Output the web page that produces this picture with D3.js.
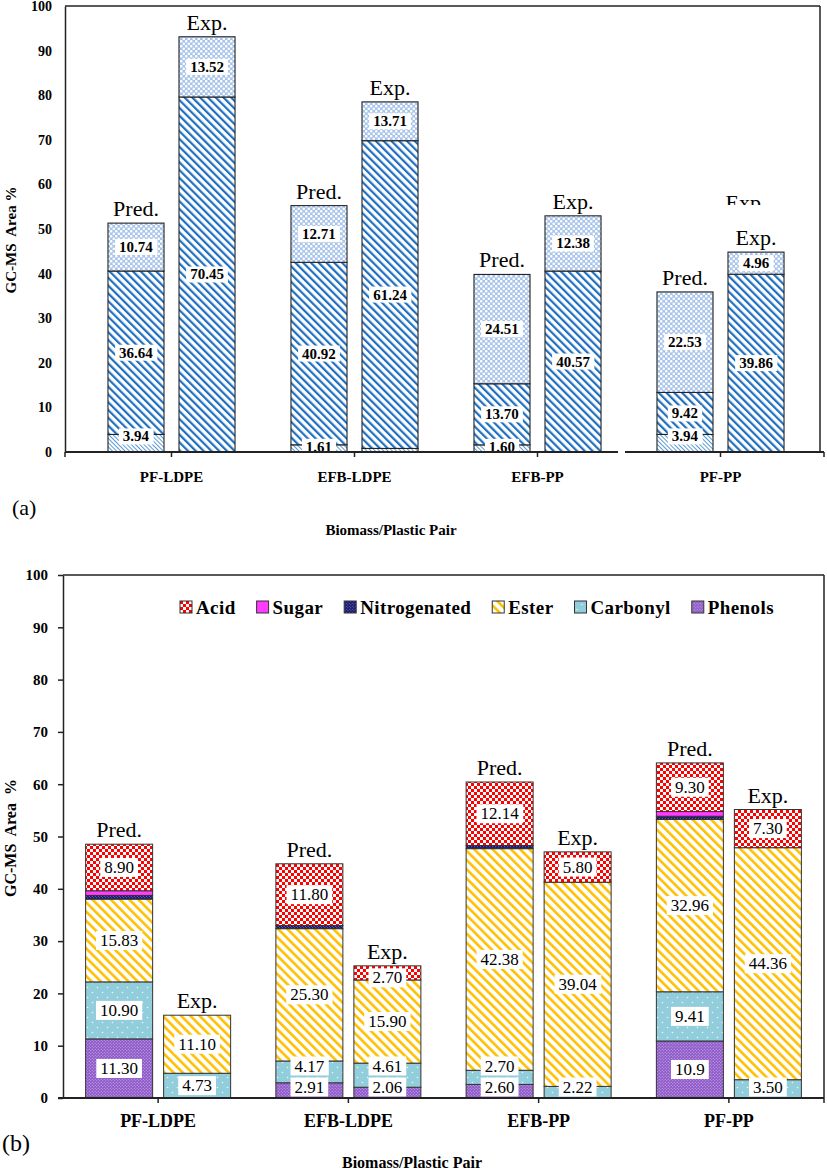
<!DOCTYPE html>
<html>
<head>
<meta charset="utf-8">
<script src="https://cdn.jsdelivr.net/npm/d3@7"></script>
<style>
body { margin: 0; background: #fff; }
svg text { font-family: "Liberation Serif", "Times New Roman", serif; }
</style>
</head>
<body>
<div id="fig"></div>
<script>
// ---- data ----
var pairs = ["PF-LDPE", "EFB-LDPE", "EFB-PP", "PF-PP"];
var kinds = ["Pred.", "Exp."];

// panel (a): three stacked groups, bottom to top
var predLow  = [3.94, 1.61, 1.60, 3.94];
var predMid  = [36.64, 40.92, 13.70, 9.42];
var predHigh = [10.74, 12.71, 24.51, 22.53];
// exp heights; two printed labels do not match the drawn heights
var expLow  = [0, 0.8, 0, 0];
var expMid  = [79.6, 69.0, 40.57, 39.86];
var expHigh = [13.5, 8.7, 12.38, 4.96];
var expMidLabels  = ["70.45", "61.24", "40.57", "39.86"];
var expHighLabels = ["13.52", "13.71", "12.38", "4.96"];

// panel (b): compound groups, bottom to top
var groups = ["Phenols", "Carbonyl", "Ester", "Nitrogenated", "Sugar", "Acid"];
var legendOrder = ["Acid", "Sugar", "Nitrogenated", "Ester", "Carbonyl", "Phenols"];
var predPhenols  = [11.30, 2.91, 2.60, 10.9];
var predCarbonyl = [10.90, 4.17, 2.70, 9.41];
var predEster    = [15.83, 25.30, 42.38, 32.96];
var predNitro    = [0.7, 0.6, 0.6, 0.6];
var predSugar    = [0.9, 0, 0, 0.9];
var predAcid     = [8.90, 11.80, 12.14, 9.30];
var expPhenols   = [0, 2.06, 0, 0];
var expCarbonyl  = [4.73, 4.61, 2.22, 3.50];
var expEster     = [11.10, 15.90, 39.04, 44.36];
var expNitro     = [0, 0, 0, 0];
var expSugar     = [0, 0, 0, 0];
var expAcid      = [0, 2.70, 5.80, 7.30];
var predPhenolsLabels = ["11.30", "2.91", "2.60", "10.9"];

var yTicks = d3.range(0, 101, 10);

var f2 = d3.format(".2f");

var svg = d3.select('#fig')
    .append('svg')
    .attr('width', 827)
    .attr('height', 1170);

var defs = svg.append('defs');

// ---- patterns ----
function stripePattern(id, color, size, w) {
    var p = defs.append('pattern')
        .attr('id', id)
        .attr('patternUnits', 'userSpaceOnUse')
        .attr('width', size).attr('height', size)
        .attr('patternTransform', 'rotate(-45)');
    p.append('rect').attr('width', size).attr('height', size).attr('fill', '#fff');
    p.append('rect').attr('width', w).attr('height', size).attr('fill', color);
}
function dotPattern(id, bg, dot, size, r) {
    var p = defs.append('pattern')
        .attr('id', id)
        .attr('patternUnits', 'userSpaceOnUse')
        .attr('width', size).attr('height', size);
    p.append('rect').attr('width', size).attr('height', size).attr('fill', bg);
    p.append('circle').attr('cx', size / 4).attr('cy', size / 4).attr('r', r).attr('fill', dot);
    p.append('circle').attr('cx', size * 3 / 4).attr('cy', size * 3 / 4).attr('r', r).attr('fill', dot);
}

stripePattern('fineBlue', '#5b9bd5', 3, 1);
stripePattern('stripeBlue', '#1f6fc0', 5.5, 2.2);
dotPattern('dotBlue', '#a8c4ea', '#fff', 5, 1.3);

stripePattern('ester', '#ffc000', 6.5, 2.6);
dotPattern('carbonyl', '#92cddc', '#e8f6fa', 10, 0.8);
dotPattern('phenols', '#8f5ac8', '#cdb6ec', 3, 0.6);
dotPattern('nitro', '#14146a', '#9aa0e0', 3, 0.5);

var chk = defs.append('pattern')
    .attr('id', 'acid')
    .attr('patternUnits', 'userSpaceOnUse')
    .attr('width', 6).attr('height', 6);
chk.append('rect').attr('width', 6).attr('height', 6).attr('fill', '#fff');
chk.append('rect').attr('width', 3).attr('height', 3).attr('fill', '#f00');
chk.append('rect').attr('x', 3).attr('y', 3).attr('width', 3).attr('height', 3).attr('fill', '#f00');

var fills = {
    low: 'url(#fineBlue)', mid: 'url(#stripeBlue)', high: 'url(#dotBlue)',
    Phenols: 'url(#phenols)', Carbonyl: 'url(#carbonyl)', Ester: 'url(#ester)',
    Nitrogenated: 'url(#nitro)', Sugar: '#ff3cff', Acid: 'url(#acid)'
};

// label with white box behind
function boxLabel(g, x, y, txt, size, weight) {
    var lg = g.append('g');
    var t = lg.append('text')
        .attr('x', x).attr('y', y)
        .attr('text-anchor', 'middle')
        .attr('dominant-baseline', 'central')
        .attr('font-size', size)
        .attr('font-weight', weight)
        .text(txt);
    var b = t.node().getBBox();
    lg.insert('rect', 'text')
        .attr('x', b.x - 4).attr('y', b.y)
        .attr('width', b.width + 8).attr('height', b.height)
        .attr('fill', '#fff');
}

// ================= panel (a) =================
var gA = svg.append('g');

var yA = d3.scaleLinear().domain([0, 100]).range([452, 6]);
var xA = d3.scaleBand().domain(pairs).range([80, 812]);
var subA = d3.scaleBand().domain(kinds).range([0, xA.bandwidth()])
    .paddingInner(0.211).paddingOuter(0.394);

var rowsA = [];
pairs.forEach(function (c, i) {
    rowsA.push({ pair: c, kind: 'Pred.', low: predLow[i], mid: predMid[i], high: predHigh[i],
        labs: { low: f2(predLow[i]), mid: f2(predMid[i]), high: f2(predHigh[i]) } });
    rowsA.push({ pair: c, kind: 'Exp.', low: expLow[i], mid: expMid[i], high: expHigh[i],
        labs: { low: null, mid: expMidLabels[i], high: expHighLabels[i] } });
});

var stackA = d3.stack().keys(['low', 'mid', 'high'])(rowsA);

gA.append('line')
    .attr('x1', 65).attr('x2', 820).attr('y1', yA(100)).attr('y2', yA(100))
    .attr('stroke', '#222').attr('stroke-width', 1.5);
gA.append('line')
    .attr('x1', 820).attr('x2', 820).attr('y1', yA(100)).attr('y2', yA(0))
    .attr('stroke', '#222').attr('stroke-width', 1.5);

stackA.forEach(function (s) {
    gA.append('g').selectAll('rect')
        .data(s.filter(function (d) { return d[1] - d[0] > 0; }))
        .enter()
        .append('rect')
        .attr('x', function (d) { return xA(d.data.pair) + subA(d.data.kind); })
        .attr('y', function (d) { return yA(d[1]); })
        .attr('width', subA.bandwidth())
        .attr('height', function (d) { return yA(d[0]) - yA(d[1]); })
        .attr('fill', fills[s.key])
        .attr('stroke', '#222')
        .attr('stroke-width', 1.1);
});

stackA.forEach(function (s) {
    s.forEach(function (d) {
        var txt = d.data.labs[s.key];
        if (!txt) return;
        var cx = xA(d.data.pair) + subA(d.data.kind) + subA.bandwidth() / 2;
        var cy = s.key === 'low' ? yA(d[1]) + 2 : yA((d[0] + d[1]) / 2);
        boxLabel(gA, cx, cy, txt, 15, 'bold');
    });
});

gA.selectAll('.kindlab')
    .data(rowsA)
    .enter()
    .append('text')
    .attr('x', function (d) { return xA(d.pair) + subA(d.kind) + subA.bandwidth() / 2; })
    .attr('y', function (d) { return yA(d.low + d.mid + d.high) - 7; })
    .attr('text-anchor', 'middle')
    .attr('font-size', 22)
    .text(function (d) { return d.kind; });

// leftover, half hidden "Exp." above the PF-PP bar
defs.append('clipPath').attr('id', 'cutA')
    .append('rect').attr('x', 700).attr('y', 185).attr('width', 100).attr('height', 20);
gA.append('text')
    .attr('clip-path', 'url(#cutA)')
    .attr('x', xA('PF-PP') + subA('Exp.') + subA.bandwidth() / 2 - 10)
    .attr('y', 210)
    .attr('text-anchor', 'middle')
    .attr('font-size', 22)
    .text('Exp.');

var yAxisA = gA.append('g')
    .attr('transform', 'translate(65,0)')
    .call(d3.axisLeft(yA).tickValues(yTicks).tickSize(0).tickPadding(13));
yAxisA.selectAll('text').attr('font-size', 14).attr('font-weight', 'bold')
    .attr('font-family', '"Liberation Serif", serif');
yAxisA.selectAll('path').attr('stroke', '#222').attr('stroke-width', 1.5);

var xAxisA = gA.append('g')
    .attr('transform', 'translate(0,' + yA(0) + ')')
    .call(d3.axisBottom(xA).tickSize(5).tickSizeOuter(0).tickPadding(14));
xAxisA.select('.domain').remove();
xAxisA.selectAll('text').attr('font-size', 15).attr('font-weight', 'bold')
    .attr('font-family', '"Liberation Serif", serif');
xAxisA.selectAll('line').attr('stroke', '#222').attr('stroke-width', 1.5);
// base line, broken between EFB-PP and PF-PP as in the figure
[[65, 618], [625, 824]].forEach(function (seg) {
    xAxisA.append('line').attr('x1', seg[0]).attr('x2', seg[1])
        .attr('stroke', '#222').attr('stroke-width', 1.8);
});
[65, 824].forEach(function (x) {
    xAxisA.append('line').attr('x1', x).attr('x2', x).attr('y2', 5)
        .attr('stroke', '#222').attr('stroke-width', 1.5);
});

gA.append('text')
    .attr('transform', 'translate(16,240) rotate(-90)')
    .attr('text-anchor', 'middle')
    .attr('font-size', 15)
    .attr('font-weight', 'bold')
    .attr('xml:space', 'preserve')
    .text('GC-MS  Area %');

gA.append('text')
    .attr('x', 391).attr('y', 535)
    .attr('text-anchor', 'middle')
    .attr('font-size', 15)
    .attr('font-weight', 'bold')
    .text('Biomass/Plastic Pair');

gA.append('text')
    .attr('x', 12).attr('y', 515)
    .attr('font-size', 22)
    .text('(a)');

// ================= panel (b) =================
var gB = svg.append('g');

var yB = d3.scaleLinear().domain([0, 100]).range([1098, 575]);
var xB = d3.scaleBand().domain(pairs).range([63, 824]);
var subB = d3.scaleBand().domain(kinds).range([0, xB.bandwidth()])
    .paddingInner(0.141).paddingOuter(0.29);

var predB = { Phenols: predPhenols, Carbonyl: predCarbonyl, Ester: predEster,
    Nitrogenated: predNitro, Sugar: predSugar, Acid: predAcid };
var expB = { Phenols: expPhenols, Carbonyl: expCarbonyl, Ester: expEster,
    Nitrogenated: expNitro, Sugar: expSugar, Acid: expAcid };
var labelled = ["Phenols", "Carbonyl", "Ester", "Acid"];

var rowsB = [];
pairs.forEach(function (c, i) {
    var p = { pair: c, kind: 'Pred.' }, e = { pair: c, kind: 'Exp.' };
    groups.forEach(function (k) { p[k] = predB[k][i]; e[k] = expB[k][i]; });
    p.total = d3.sum(groups, function (k) { return p[k]; });
    e.total = d3.sum(groups, function (k) { return e[k]; });
    p.idx = i; e.idx = i;
    rowsB.push(p, e);
});

var stackB = d3.stack().keys(groups)(rowsB);

gB.append('line')
    .attr('x1', 63).attr('x2', 824).attr('y1', yB(100)).attr('y2', yB(100))
    .attr('stroke', '#222').attr('stroke-width', 1.5);
gB.append('line')
    .attr('x1', 824).attr('x2', 824).attr('y1', yB(100)).attr('y2', yB(0))
    .attr('stroke', '#222').attr('stroke-width', 1.5);

stackB.forEach(function (s) {
    gB.append('g').selectAll('rect')
        .data(s.filter(function (d) { return d[1] - d[0] > 0; }))
        .enter()
        .append('rect')
        .attr('x', function (d) { return xB(d.data.pair) + subB(d.data.kind); })
        .attr('y', function (d) { return yB(d[1]); })
        .attr('width', subB.bandwidth())
        .attr('height', function (d) { return yB(d[0]) - yB(d[1]); })
        .attr('fill', fills[s.key])
        .attr('stroke', '#333')
        .attr('stroke-width', 1);
});

// labels go bottom to top per bar; small ones are nudged so the boxes don't collide
var lastY = {};
stackB.forEach(function (s) {
    if (labelled.indexOf(s.key) < 0) return;
    s.forEach(function (d) {
        if (d[1] - d[0] <= 0) return;
        var v = d[1] - d[0];
        var txt = (s.key === 'Phenols' && d.data.kind === 'Pred.')
            ? predPhenolsLabels[d.data.idx] : f2(v);
        var id = d.data.pair + d.data.kind;
        var cx = xB(d.data.pair) + subB(d.data.kind) + subB.bandwidth() / 2;
        var mid = yB((d[0] + d[1]) / 2), cy;
        if (s.key === 'Acid') {
            cy = Math.max(mid, yB(d[1]) + 12);
        } else {
            cy = Math.min(mid, yB(d[0]) - 11);
            if (lastY[id] !== undefined) cy = Math.min(cy, lastY[id] - 21);
        }
        lastY[id] = cy;
        boxLabel(gB, cx, cy, txt, 17, 'normal');
    });
});

gB.selectAll('.kindlab')
    .data(rowsB)
    .enter()
    .append('text')
    .attr('x', function (d) { return xB(d.pair) + subB(d.kind) + subB.bandwidth() / 2; })
    .attr('y', function (d) { return yB(d.total) - 7; })
    .attr('text-anchor', 'middle')
    .attr('font-size', 22)
    .text(function (d) { return d.kind; });

var yAxisB = gB.append('g')
    .attr('transform', 'translate(63,0)')
    .call(d3.axisLeft(yB).tickValues(yTicks).tickSize(5).tickSizeOuter(0).tickPadding(10));
yAxisB.selectAll('text').attr('font-size', 15).attr('font-weight', 'bold')
    .attr('font-family', '"Liberation Serif", serif');
yAxisB.selectAll('path, line').attr('stroke', '#222').attr('stroke-width', 1.5);

var xAxisB = gB.append('g')
    .attr('transform', 'translate(0,' + yB(0) + ')')
    .call(d3.axisBottom(xB).tickSize(5).tickSizeOuter(0).tickPadding(11));
xAxisB.select('.domain').remove();
xAxisB.selectAll('text').attr('font-size', 18).attr('font-weight', 'bold')
    .attr('font-family', '"Liberation Serif", serif');
xAxisB.selectAll('line').attr('stroke', '#222').attr('stroke-width', 1.5);
xAxisB.append('line').attr('x1', 58).attr('x2', 824)
    .attr('stroke', '#222').attr('stroke-width', 1.8);
xAxisB.append('line').attr('x1', 824).attr('x2', 824).attr('y2', 5)
    .attr('stroke', '#222').attr('stroke-width', 1.5);

gB.append('text')
    .attr('transform', 'translate(16,838) rotate(-90)')
    .attr('text-anchor', 'middle')
    .attr('font-size', 16)
    .attr('font-weight', 'bold')
    .attr('xml:space', 'preserve')
    .text('GC-MS  Area  %');

gB.append('text')
    .attr('x', 412).attr('y', 1168)
    .attr('text-anchor', 'middle')
    .attr('font-size', 16)
    .attr('font-weight', 'bold')
    .text('Biomass/Plastic Pair');

gB.append('text')
    .attr('x', 2).attr('y', 1151)
    .attr('font-size', 24)
    .text('(b)');

// legend
var leg = gB.append('g').attr('transform', 'translate(180,607)');
var lx = 0;
legendOrder.forEach(function (k) {
    var it = leg.append('g').attr('transform', 'translate(' + lx + ',0)');
    it.append('rect')
        .attr('x', 0).attr('y', -6).attr('width', 12).attr('height', 12)
        .attr('fill', fills[k]).attr('stroke', '#333').attr('stroke-width', 1);
    var t = it.append('text')
        .attr('x', 16).attr('y', 6.5)
        .attr('font-size', 19)
        .attr('font-weight', 'bold')
        .attr('letter-spacing', 0.4)
        .text(k);
    lx += 16 + t.node().getComputedTextLength() + 21;
});
</script>
</body>
</html>
